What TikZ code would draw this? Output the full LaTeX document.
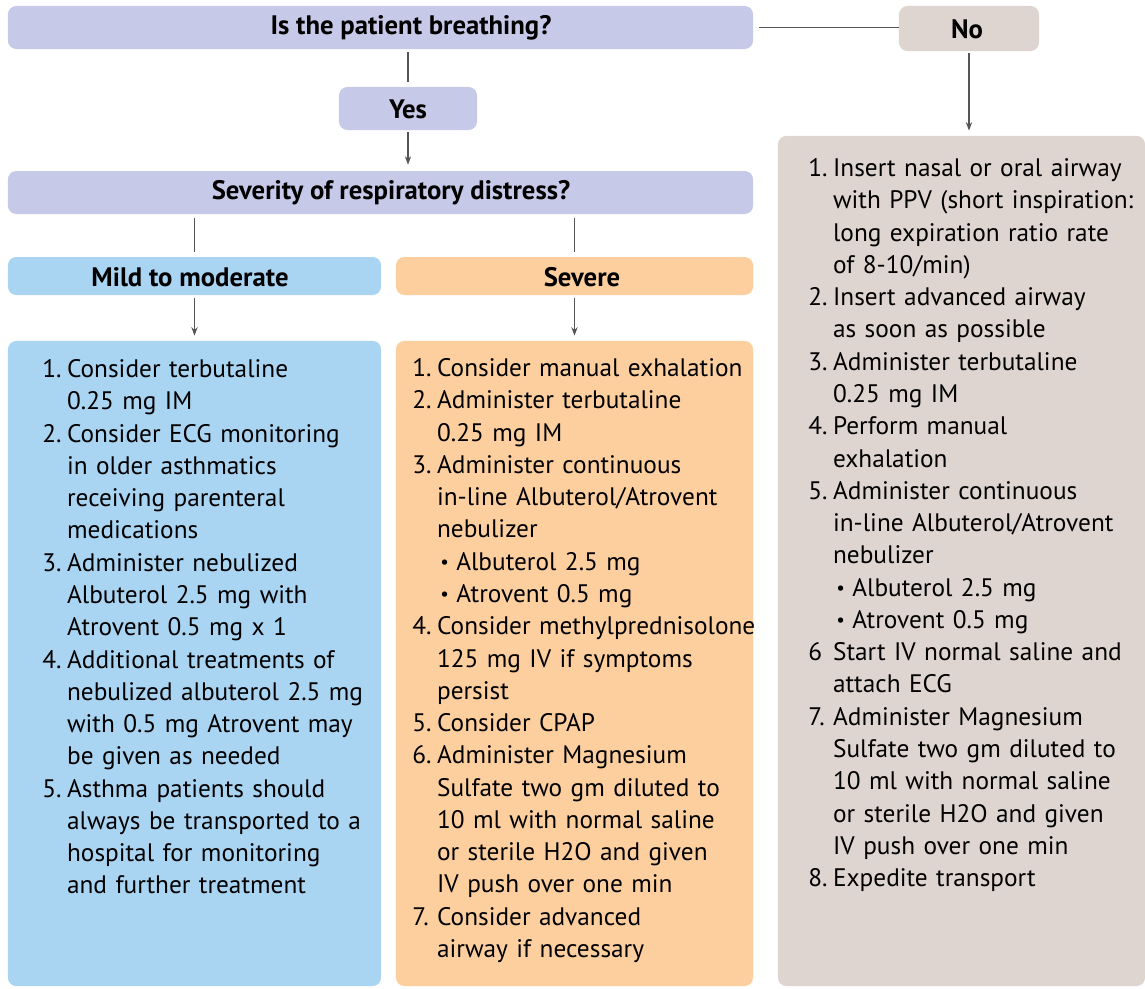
\documentclass[tikz,border=0pt]{standalone}
\usepackage{fontspec}
\setmainfont{PT Sans}
\usepackage{tikz}
\usetikzlibrary{arrows.meta}
\definecolor{qfill}{HTML}{C6C9E7}
\definecolor{mildfill}{HTML}{A9D4F2}
\definecolor{severefill}{HTML}{FDCF9F}
\definecolor{nofill}{HTML}{DED5D0}
\definecolor{linegray}{HTML}{555555}
\newlength{\labw}
\setlength{\labw}{0.62cm}
\newcommand{\stepline}[2]{\par\hangindent=\labw\hangafter=1\noindent\makebox[\labw][l]{#1}#2\par}
\newcommand{\subline}[1]{\par\noindent\hspace*{0.7cm}\makebox[0.4cm][l]{\raisebox{0.12ex}{\scalebox{0.75}{\textbullet}}}#1\par}

\begin{document}
\begin{tikzpicture}[x=0.025cm, y=-0.025cm,
  box/.style={rounded corners=6pt, inner sep=0pt},
  headtxt/.style={font=\fontsize{19}{23}\selectfont\bfseries, inner sep=0pt},
  steptxt/.style={font=\fontsize{18}{22.95}\selectfont, inner sep=0pt, align=left, anchor=north west},
  conn/.style={draw=linegray, line width=0.9pt},
  arr/.style={conn, -{Stealth[length=6pt,width=4.5pt]}}]
\useasboundingbox (0,0) rectangle (1145,988);
% questions
\node[box, fill=qfill, minimum width=18.625cm, minimum height=1.075cm] (breathing) at (380.5,27.5) {};
\node[headtxt] (breathingtxt) at (411,28) {Is the patient breathing?};
\node[box, fill=nofill, minimum width=3.5cm, minimum height=1.125cm] (no) at (969,28.5) {};
\node[headtxt] (notxt) at (967,29) {No};
\node[box, fill=qfill, minimum width=3.45cm, minimum height=1.075cm] (yes) at (408,108.5) {};
\node[headtxt] (yestxt) at (408,109) {Yes};
\node[box, fill=qfill, minimum width=18.625cm, minimum height=1.075cm] (severity) at (380.5,192.5) {};
\node[headtxt] (severitytxt) at (391,193) {Severity of respiratory distress?};
\node[box, fill=mildfill, minimum width=9.325cm, minimum height=0.95cm] (mild) at (194.5,276) {};
\node[headtxt] (mildtxt) at (190,277) {Mild to moderate};
\node[box, fill=severefill, minimum width=8.925cm, minimum height=0.95cm] (severe) at (574.5,276) {};
\node[headtxt] (severetxt) at (582,277) {Severe};
% bodies
\node[box, fill=mildfill, minimum width=9.325cm, minimum height=16.125cm] (mildbody) at (194.5,663.5) {};
\node[box, fill=severefill, minimum width=8.925cm, minimum height=16.125cm] (severebody) at (574.5,663.5) {};
\node[box, fill=nofill, minimum width=9.175cm, minimum height=21.25cm] (nobody) at (961.5,561) {};

\node[steptxt, text width=8.6cm] (mildsteps) at (42,345) {%
\stepline{1.}{Consider terbutaline\newline 0.25 mg IM}
\stepline{2.}{Consider ECG monitoring\newline in older asthmatics\newline receiving parenteral\newline medications}
\stepline{3.}{Administer nebulized\newline Albuterol 2.5 mg with\newline Atrovent 0.5 mg x 1}
\stepline{4.}{Additional treatments of\newline nebulized albuterol 2.5 mg\newline with 0.5 mg Atrovent may\newline be given as needed}
\stepline{5.}{Asthma patients should\newline always be transported to a\newline hospital for monitoring\newline and further treatment}};

\node[steptxt, text width=8.6cm] (severesteps) at (412,344) {%
\stepline{1.}{Consider manual exhalation}
\stepline{2.}{Administer terbutaline\newline 0.25 mg IM}
\stepline{3.}{Administer continuous\newline in-line Albuterol/Atrovent\newline nebulizer}
\subline{Albuterol 2.5 mg}
\subline{Atrovent 0.5 mg}
\stepline{4.}{Consider methylprednisolone\newline 125 mg IV if symptoms\newline persist}
\stepline{5.}{Consider CPAP}
\stepline{6.}{Administer Magnesium\newline Sulfate two gm diluted to\newline 10 ml with normal saline\newline or sterile H2O and given\newline IV push over one min}
\stepline{7.}{Consider advanced\newline airway if necessary}};

\node[steptxt, text width=8.6cm] (nosteps) at (808,144) {%
\stepline{1.}{Insert nasal or oral airway\newline with PPV (short inspiration:\newline long expiration ratio rate\newline of 8-10/min)}
\stepline{2.}{Insert advanced airway\newline as soon as possible}
\stepline{3.}{Administer terbutaline\newline 0.25 mg IM}
\stepline{4.}{Perform manual\newline exhalation}
\stepline{5.}{Administer continuous\newline in-line Albuterol/Atrovent\newline nebulizer}
\subline{Albuterol 2.5 mg}
\subline{Atrovent 0.5 mg}
\stepline{6}{Start IV normal saline and\newline attach ECG}
\stepline{7.}{Administer Magnesium\newline Sulfate two gm diluted to\newline 10 ml with normal saline\newline or sterile H2O and given\newline IV push over one min}
\stepline{8.}{Expedite transport}};
% connectors
\draw[conn, shorten <=4.3pt] (breathing.east) -- (breathing.east -| no.west);
\draw[conn, shorten <=2.1pt, shorten >=3.6pt] (breathing.south -| yes.north) -- (yes.north);
\draw[arr, shorten <=1.4pt, shorten >=4.3pt] (yes.south) -- (severity.north -| yes.south);
\draw[conn, shorten <=2.8pt, shorten >=3.6pt] (severity.south -| mild.north) -- (mild.north);
\draw[conn, shorten <=2.8pt, shorten >=3.6pt] (severity.south -| severe.north) -- (severe.north);
\draw[arr, shorten <=2.1pt, shorten >=3.6pt] (mild.south) -- (mildbody.north);
\draw[arr, shorten <=2.1pt, shorten >=3.6pt] (severe.south) -- (severebody.north);
\draw[arr, shorten <=1.4pt, shorten >=3.6pt] (no.south) -- (nobody.north -| no.south);
\end{tikzpicture}
\end{document}
